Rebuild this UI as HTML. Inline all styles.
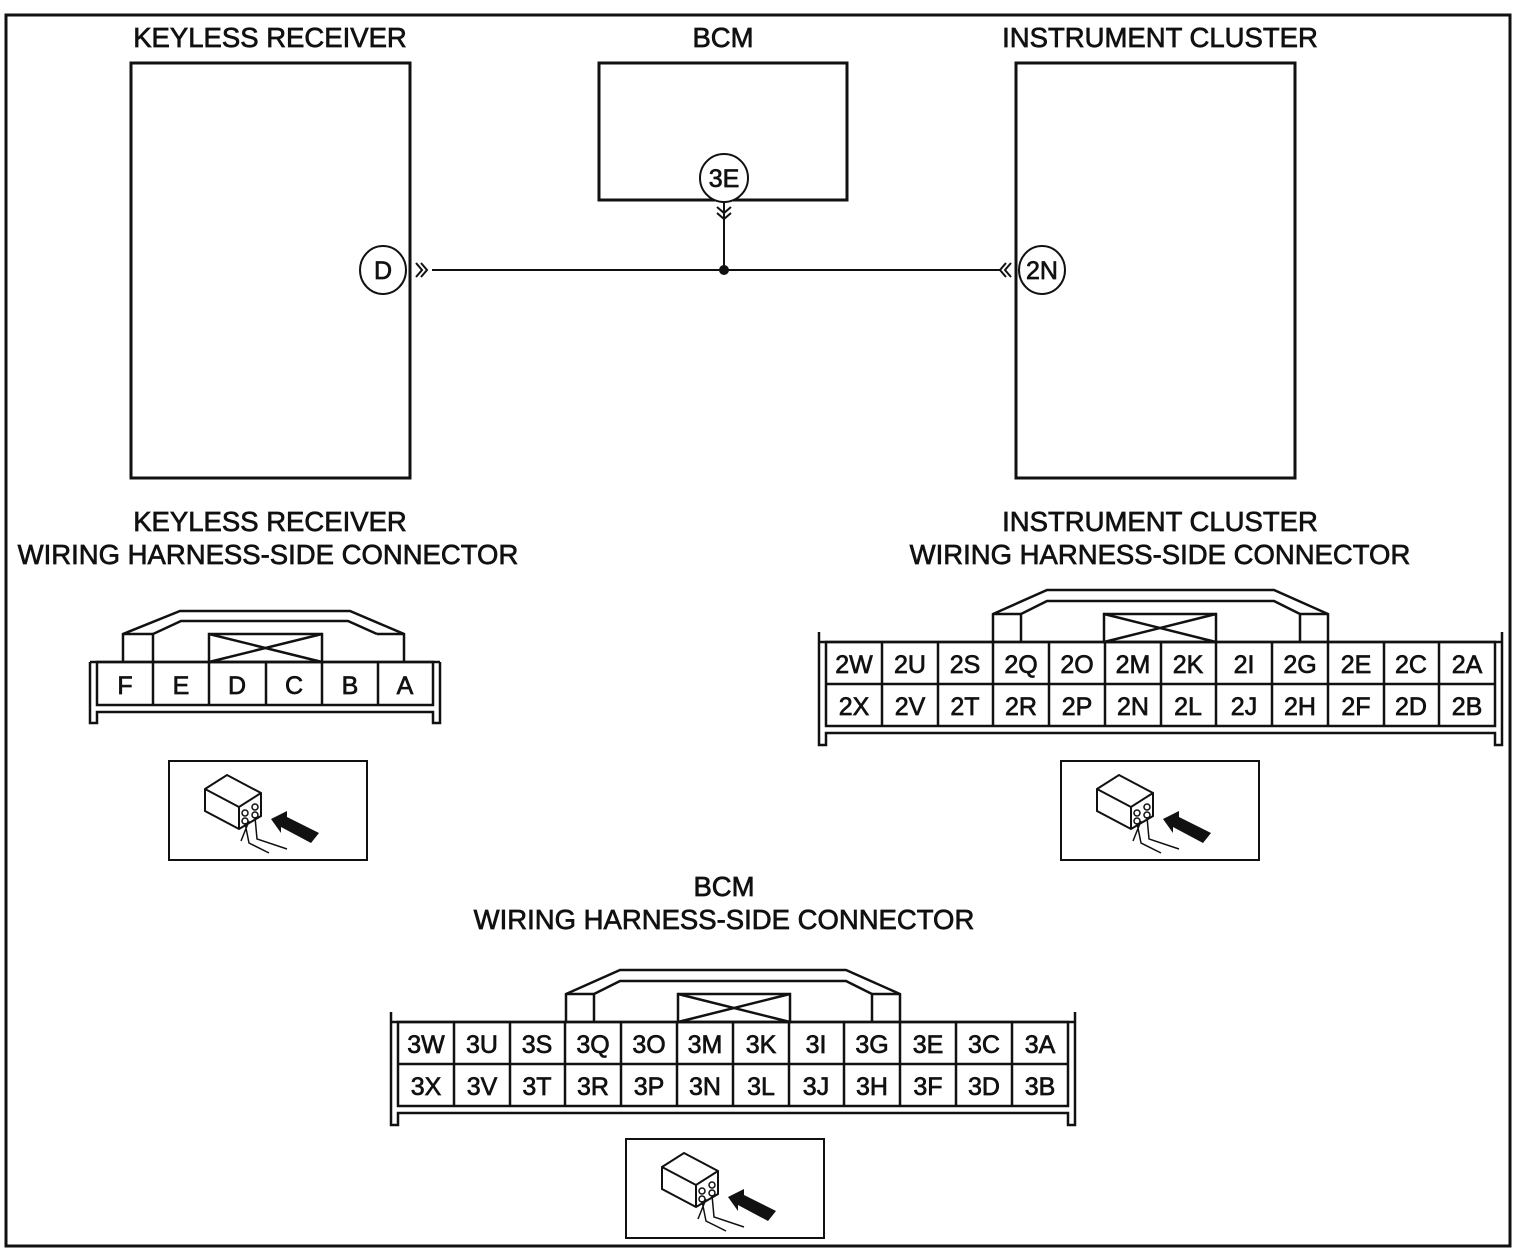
<!DOCTYPE html>
<html><head><meta charset="utf-8"><style>
html,body{margin:0;padding:0;background:#fff}
svg{display:block}
text{font-family:"Liberation Sans",Arial,sans-serif;fill:#111;stroke:#111;stroke-width:0.7}
</style></head><body>
<svg width="1518" height="1254" viewBox="0 0 1518 1254" xmlns="http://www.w3.org/2000/svg">
<rect x="0" y="0" width="1518" height="1254" fill="#fff"/>
<rect x="6" y="15" width="1504" height="1231" fill="none" stroke="#111" stroke-width="3"/>

<g font-size="27.5" text-anchor="middle">
<text x="270" y="47">KEYLESS RECEIVER</text>
<text x="723" y="47">BCM</text>
<text x="1160" y="47">INSTRUMENT CLUSTER</text>
<text x="270" y="531">KEYLESS RECEIVER</text>
<text x="268" y="564">WIRING HARNESS-SIDE CONNECTOR</text>
<text x="1160" y="531">INSTRUMENT CLUSTER</text>
<text x="1160" y="564">WIRING HARNESS-SIDE CONNECTOR</text>
<text x="724" y="896">BCM</text>
<text x="724" y="929">WIRING HARNESS-SIDE CONNECTOR</text>
</g>

<g fill="none" stroke="#111" stroke-width="3">
<rect x="131" y="63" width="279" height="415"/>
<rect x="599" y="63" width="248" height="137"/>
<rect x="1016" y="63" width="279" height="415"/>
</g>
<g stroke="#111" fill="none">
<line x1="432" y1="270" x2="1000" y2="270" stroke-width="2"/>
<line x1="724" y1="200" x2="724" y2="270" stroke-width="2"/>
<path d="M416 263 L422 270 L416 277 M421 263 L427 270 L421 277" stroke-width="2"/>
<path d="M1006 263 L1000 270 L1006 277 M1011 263 L1005 270 L1011 277" stroke-width="2"/>
<path d="M717 207 L724 213 L731 207 M717 213 L724 219 L731 213" stroke-width="2"/>
</g>
<circle cx="724" cy="270" r="5" fill="#111"/>
<g fill="#fff" stroke="#111" stroke-width="2">
<ellipse cx="383" cy="270" rx="23" ry="24"/>
<ellipse cx="724" cy="178" rx="24" ry="24"/>
<ellipse cx="1042" cy="270" rx="23" ry="24"/>
</g>
<g font-size="25" text-anchor="middle">
<text x="383" y="279">D</text>
<text x="724" y="187">3E</text>
<text x="1042" y="279">2N</text>
</g>

<!-- Keyless connector -->
<g fill="none" stroke="#111" stroke-width="2.5">
<path d="M123 662 V634 L180 611 H350 L404 634 V662"/>
<path d="M153 662 V634 L181 621 H348 L377 634"/>
<path d="M377 634 H404"/>
<path d="M123 634 H153"/>
<rect x="209" y="634" width="113" height="28"/>
<path d="M209 662 L322 634 M209 634 L322 662"/>
<path d="M90 662 H440 M90 662 V723 H97 V712 H433 V723 H440 V662"/>
<rect x="97" y="662" width="336" height="43"/>
<path d="M153 662 V705 M209 662 V705 M266 662 V705 M322 662 V705 M378 662 V705"/>
</g>
<g font-size="25" text-anchor="middle">
<text x="125" y="694">F</text><text x="181" y="694">E</text><text x="237" y="694">D</text>
<text x="294" y="694">C</text><text x="350" y="694">B</text><text x="405" y="694">A</text>
</g>

<!-- Instrument connector -->
<g fill="none" stroke="#111" stroke-width="2.5">
<path d="M993 642 V614 L1047 590 H1274 L1328 614 V642"/>
<path d="M1021 642 V614 L1047 601 H1274 L1300 614 V642"/>
<path d="M993 614 H1021 M1300 614 H1328"/>
<rect x="1104" y="614" width="112" height="28"/>
<path d="M1104 642 L1216 614 M1104 614 L1216 642"/>
<path d="M819 632 V745 H826 V733 H1495 V745 H1502 V632"/>
<path d="M819 642 H1502"/>
<rect x="826" y="642" width="669" height="84"/>
<path d="M826 684 H1495"/>
<path d="M882 642V726M938 642V726M993 642V726M1049 642V726M1105 642V726M1161 642V726M1216 642V726M1272 642V726M1328 642V726M1384 642V726M1439 642V726"/>
</g>
<g font-size="25" text-anchor="middle">
<text x="854" y="673">2W</text><text x="910" y="673">2U</text><text x="965" y="673">2S</text><text x="1021" y="673">2Q</text><text x="1077" y="673">2O</text><text x="1133" y="673">2M</text><text x="1188" y="673">2K</text><text x="1244" y="673">2I</text><text x="1300" y="673">2G</text><text x="1356" y="673">2E</text><text x="1411" y="673">2C</text><text x="1467" y="673">2A</text>
<text x="854" y="715">2X</text><text x="910" y="715">2V</text><text x="965" y="715">2T</text><text x="1021" y="715">2R</text><text x="1077" y="715">2P</text><text x="1133" y="715">2N</text><text x="1188" y="715">2L</text><text x="1244" y="715">2J</text><text x="1300" y="715">2H</text><text x="1356" y="715">2F</text><text x="1411" y="715">2D</text><text x="1467" y="715">2B</text>
</g>

<!-- BCM connector -->
<g fill="none" stroke="#111" stroke-width="2.5">
<path d="M566 1022 V994 L620 970 H846 L900 994 V1022"/>
<path d="M594 1022 V994 L620 981 H846 L872 994 V1022"/>
<path d="M566 994 H594 M872 994 H900"/>
<rect x="678" y="994" width="112" height="28"/>
<path d="M678 1022 L790 994 M678 994 L790 1022"/>
<path d="M391 1012 V1125 H398 V1113 H1068 V1125 H1075 V1012"/>
<path d="M391 1022 H1075"/>
<rect x="398" y="1022" width="670" height="84"/>
<path d="M398 1064 H1068"/>
<path d="M454 1022V1106M510 1022V1106M565 1022V1106M621 1022V1106M677 1022V1106M733 1022V1106M789 1022V1106M844 1022V1106M900 1022V1106M956 1022V1106M1012 1022V1106"/>
</g>
<g font-size="25" text-anchor="middle">
<text x="426" y="1053">3W</text><text x="482" y="1053">3U</text><text x="537" y="1053">3S</text><text x="593" y="1053">3Q</text><text x="649" y="1053">3O</text><text x="705" y="1053">3M</text><text x="761" y="1053">3K</text><text x="816" y="1053">3I</text><text x="872" y="1053">3G</text><text x="928" y="1053">3E</text><text x="984" y="1053">3C</text><text x="1040" y="1053">3A</text>
<text x="426" y="1095">3X</text><text x="482" y="1095">3V</text><text x="537" y="1095">3T</text><text x="593" y="1095">3R</text><text x="649" y="1095">3P</text><text x="705" y="1095">3N</text><text x="761" y="1095">3L</text><text x="816" y="1095">3J</text><text x="872" y="1095">3H</text><text x="928" y="1095">3F</text><text x="984" y="1095">3D</text><text x="1040" y="1095">3B</text>
</g>

<defs>
<g id="ic">
<rect x="0" y="0" width="198" height="99" fill="#fff" stroke="#111" stroke-width="2"/>
<path d="M36 28 L58 14 L92 32 L92 55 L70 68 L36 50 Z" fill="#fff" stroke="#111" stroke-width="2"/>
<path d="M36 28 L70 46 L92 32 M70 46 V68" fill="none" stroke="#111" stroke-width="2"/>
<circle cx="76" cy="52" r="3" fill="none" stroke="#111" stroke-width="1.5"/>
<circle cx="86" cy="46" r="3" fill="none" stroke="#111" stroke-width="1.5"/>
<circle cx="76" cy="60" r="3" fill="none" stroke="#111" stroke-width="1.5"/>
<circle cx="86" cy="54" r="3" fill="none" stroke="#111" stroke-width="1.5"/>
<path d="M76 62 L80 82 L100 92 M86 56 L88 78 L118 88 M80 60 L72 80" fill="none" stroke="#111" stroke-width="1.5"/>
<path d="M102 58 L118 50 L118 56 L150 72 L142 82 L112 66 L112 72 Z" fill="#111"/>
</g>
</defs>
<use href="#ic" x="169" y="761"/>
<use href="#ic" x="1061" y="761"/>
<use href="#ic" x="626" y="1139"/>
</svg>
</body></html>
